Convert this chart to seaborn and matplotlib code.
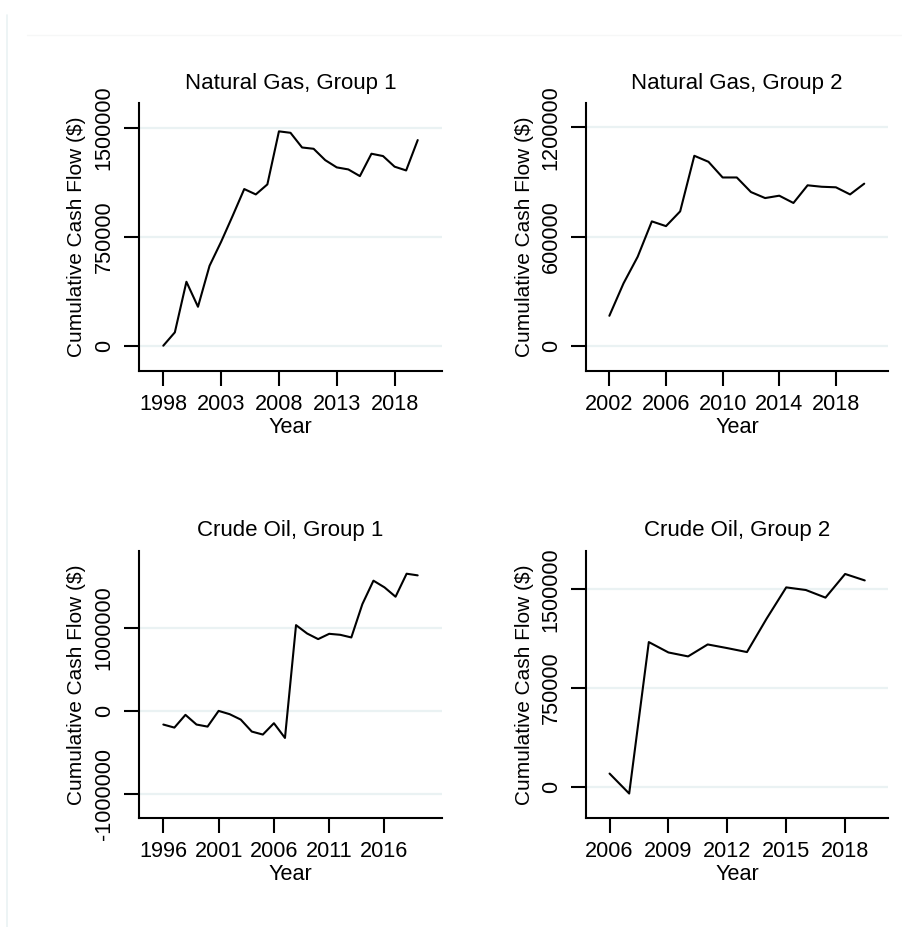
import numpy as np
import pandas as pd
import matplotlib
matplotlib.use('Agg')
import matplotlib.pyplot as plt
from matplotlib.lines import Line2D
import seaborn as sns

sns.set_style('white')
plt.rcParams['font.family'] = ['Liberation Sans', 'DejaVu Sans']
plt.rcParams['text.color'] = 'black'
plt.rcParams['axes.labelcolor'] = 'black'
plt.rcParams['xtick.color'] = 'black'
plt.rcParams['ytick.color'] = 'black'

# Natural gas, group 1
gas1_years = list(range(1998, 2021))
gas1_cash = [0, 92000, 440000, 268000, 550000, 715000, 894000, 1078000, 1041000,
             1110000, 1475000, 1465000, 1364000, 1355000, 1277000, 1227000, 1213000,
             1167000, 1321000, 1305000, 1232000, 1206000, 1415000]

# Natural gas, group 2
gas2_years = list(range(2002, 2021))
gas2_cash = [166000, 344000, 490000, 684000, 658000, 739000, 1044000, 1011000, 925000,
             925000, 845000, 812000, 825000, 785000, 882000, 874000, 871000, 832000,
             891000]

# Crude oil, group 1
oil1_years = list(range(1996, 2020))
oil1_cash = [-165000, -202000, -48000, -165000, -190000, 0, -40000, -105000, -250000,
             -286000, -149000, -327000, 1036000, 935000, 867000, 931000, 919000, 887000,
             1290000, 1573000, 1492000, 1379000, 1657000, 1637000]

# Crude oil, group 2
oil2_years = list(range(2006, 2020))
oil2_cash = [99000, -53000, 1099000, 1020000, 990000, 1081000, 1053000, 1023000,
             1277000, 1515000, 1495000, 1437000, 1617000, 1568000]

titles = ['Natural Gas, Group 1', 'Natural Gas, Group 2',
          'Crude Oil, Group 1', 'Crude Oil, Group 2']
yticks = [[0, 750000, 1500000], [0, 600000, 1200000],
          [-1000000, 0, 1000000], [0, 750000, 1500000]]
xticks = [list(range(1998, 2019, 5)), list(range(2002, 2019, 4)),
          list(range(1996, 2017, 5)), list(range(2006, 2019, 3))]

W, H = 902, 927
fig = plt.figure(figsize=(W / 100, H / 100), dpi=100)
fig.patch.set_facecolor('white')

# axes boxes in pixels: left, top, right, bottom
boxes = [(139, 103.3, 442, 371), (586, 103.3, 888.3, 371),
         (139, 550.7, 442, 818), (586, 550.7, 888.3, 818)]
xlims = [(1995.9, 2022.1), (2000.35, 2021.7), (1993.8, 2021.2), (2004.8, 2020.2)]
ylims = [(-174000, 1668000), (-137000, 1332000), (-1294000, 1935000), (-239000, 1794000)]

series = [(gas1_years, gas1_cash), (gas2_years, gas2_cash),
          (oil1_years, oil1_cash), (oil2_years, oil2_cash)]

grid_col = '#EAF2F3'
fs = 15.6

for i, (yrs, vals) in enumerate(series):
    l, t, r, b = boxes[i]
    ax = fig.add_axes([l / W, 1 - b / H, (r - l) / W, (b - t) / H])
    df = pd.DataFrame({'Year': yrs, 'cash': vals})
    for v in yticks[i]:
        ax.axhline(v, color=grid_col, lw=1.6, zorder=0)
    sns.lineplot(data=df, x='Year', y='cash', ax=ax, color='black', lw=1.5, zorder=3)
    ax.set_xlim(*xlims[i])
    ax.set_ylim(*ylims[i])
    ax.set_xticks(xticks[i])
    ax.set_yticks(yticks[i])
    ax.set_xticklabels([str(x) for x in xticks[i]], fontsize=fs)
    ax.set_yticklabels([str(int(v)) for v in yticks[i]], fontsize=fs,
                       rotation=90, va='center', ha='right')
    for s in ['top', 'right']:
        ax.spines[s].set_visible(False)
    for s in ['left', 'bottom']:
        ax.spines[s].set_color('black')
        ax.spines[s].set_linewidth(1.5)
    ax.tick_params(axis='both', direction='out', length=10.5, width=1.5,
                   color='black', left=True, bottom=True)
    ax.tick_params(axis='y', pad=7)
    ax.tick_params(axis='x', pad=6)
    ax.set_xlabel('Year', fontsize=fs)
    ax.set_ylabel('Cumulative Cash Flow ($)', fontsize=15)
    ax.yaxis.set_label_coords(-0.205, 0.5)
    ax.xaxis.set_label_coords(0.5, -0.21)
    ax.xaxis.label.set_va('center')
    ax.yaxis.label.set_va('center')
    ax.text(0.5, 1 + 20 / (b - t), titles[i], transform=ax.transAxes,
            ha='center', va='center', fontsize=16)
    ax.set_facecolor('white')

# faint outer frame lines of the graph region
fig.add_artist(Line2D([6.5 / W, 6.5 / W], [1 - 15 / H, 0], color=grid_col, lw=1.2))
fig.add_artist(Line2D([27 / W, 1], [1 - 35 / H, 1 - 35 / H], color='#F6F7F7', lw=1.0))

fig.savefig('out.png', dpi=100, facecolor='white')
